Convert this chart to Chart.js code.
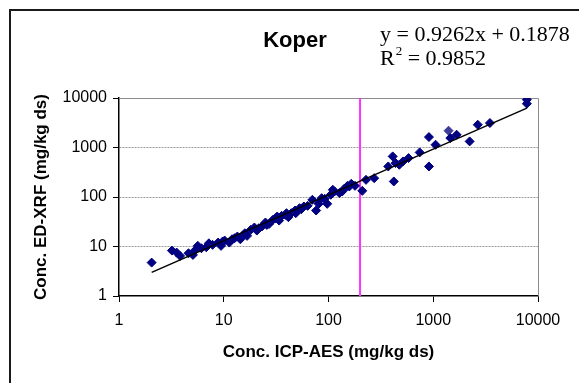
<!DOCTYPE html>
<html>
<head>
<meta charset="utf-8">
<title>Koper</title>
<script src="https://cdn.jsdelivr.net/npm/chart.js@4.4.1/dist/chart.umd.min.js"></script>
<style>
  html, body { margin: 0; padding: 0; background: #fff; }
</style>
</head>
<body>
<canvas id="koperChart" width="579" height="383"></canvas>
<script>
// ICP-AES vs ED-XRF concentrations (mg/kg ds), Koper samples
const icpAes = [
  2.05, 3.2, 3.55, 3.83, 4.61, 5.08, 5.29, 5.65, 6.12, 6.81,
  7.21, 7.82, 8.83, 9.42, 9.75, 10.2, 11.3, 12.0, 12.7, 13.5,
  14.4, 15.4, 15.9, 16.7, 18.1, 19.6, 20.7, 21.6, 23.1, 25.0,
  25.8, 27.1, 29.4, 31.1, 32.4, 33.8, 35.7, 38.8, 39.7, 41.4,
  44.2, 48.0, 48.7, 52.9, 55.0, 58.2, 63.2, 70.2, 76.2, 80.6,
  86.0, 91.8, 97.2, 105, 110, 114, 127, 135, 140, 152,
  158, 165, 179, 210, 228, 273, 372, 410, 420, 437,
  474, 514, 581, 742, 910, 910, 1052, 1456, 1671, 2225,
  2660, 3475, 7830, 7830
];
const edXrf = [
  4.73, 8.27, 7.53, 6.45, 7.3, 6.76, 8.27, 10.3, 9.22, 9.66,
  11.6, 10.8, 12.0, 10.3, 12.6, 13.2, 12.0, 14.0, 14.7, 15.9,
  14.0, 17.2, 18.5, 16.4, 21.7, 24.2, 21.0, 23.4, 25.3, 30.5,
  27.3, 28.6, 34.5, 37.3, 40.3, 33.4, 41.6, 43.6, 47.1, 39.1,
  47.1, 53.3, 47.1, 59.5, 56.7, 64.3, 66.3, 87.7, 53.3, 72.7,
  94.7, 91.8, 72.7, 111, 140, 129, 120, 129, 144, 168,
  163, 185, 168, 133, 222, 240, 414, 661, 206, 484,
  448, 523, 611, 796, 1625, 414, 1136, 1552, 1811, 1328,
  2885, 3120, 9250, 7670
];

// single lighter marker
const lightIcp = [1400];
const lightXrf = [2183];

// trendline from the fitted equation (log-log)
const slope = 0.9262;
const intercept = 0.1878;
const rSquared = 0.9852;

// vertical limit line
const limitIcp = 200;

const axisTicks = [1, 10, 100, 1000, 10000];

const pts = icpAes.map((v, i) => ({ x: v, y: edXrf[i] }));
const lightPts = lightIcp.map((v, i) => ({ x: v, y: lightXrf[i] }));
const xMin = Math.min(...icpAes);
const xMax = Math.max(...icpAes);
const fit = x => Math.pow(10, intercept + slope * Math.log10(x));
const trendPts = [{ x: xMin, y: fit(xMin) }, { x: xMax, y: fit(xMax) }];
const limitPts = [{ x: limitIcp, y: axisTicks[0] }, { x: limitIcp, y: axisTicks[axisTicks.length - 1] }];

const sans = '"Liberation Sans", Arial, sans-serif';
const serif = '"Liberation Serif", "Times New Roman", serif';

const decor = {
  id: 'decor',
  beforeDraw(chart) {
    const ctx = chart.ctx;
    ctx.save();
    ctx.fillStyle = '#fff';
    ctx.fillRect(0, 0, chart.width, chart.height);
    ctx.restore();
  },
  beforeDatasetsDraw(chart) {
    const { ctx, chartArea: a } = chart;
    ctx.save();
    ctx.strokeStyle = '#8c8c8c';
    ctx.lineWidth = 1;
    ctx.beginPath();
    ctx.moveTo(a.left, a.top + 0.5);
    ctx.lineTo(a.right + 0.5, a.top + 0.5);
    ctx.lineTo(a.right + 0.5, a.bottom);
    ctx.stroke();
    ctx.restore();
  },
  afterDraw(chart) {
    const ctx = chart.ctx;
    ctx.save();
    // outer frame
    ctx.strokeStyle = '#1a1a1a';
    ctx.lineWidth = 2;
    ctx.beginPath();
    ctx.moveTo(10, chart.height + 5);
    ctx.lineTo(10, 10);
    ctx.lineTo(chart.width + 5, 10);
    ctx.stroke();

    // title
    ctx.fillStyle = '#000';
    ctx.textBaseline = 'alphabetic';
    ctx.textAlign = 'center';
    ctx.font = 'bold 22px ' + sans;
    ctx.fillText('Koper', 295, 47);

    // equation
    ctx.textAlign = 'left';
    ctx.font = '22px ' + serif;
    ctx.fillText('y = ' + slope + 'x + ' + intercept, 380, 41);
    ctx.fillText('R', 380, 65);
    const rw = ctx.measureText('R').width;
    ctx.font = '13px ' + serif;
    ctx.fillText('2', 380 + rw + 1, 55);
    const sw = ctx.measureText('2').width;
    ctx.font = '22px ' + serif;
    ctx.fillText(' = ' + rSquared, 380 + rw + sw + 1, 65);
    ctx.restore();
  }
};

const logAxis = (title, isX) => ({
  type: 'logarithmic',
  min: axisTicks[0],
  max: axisTicks[axisTicks.length - 1],
  afterBuildTicks: s => { s.ticks = axisTicks.map(v => ({ value: v })); },
  afterFit: s => {
    if (isX) s.height = 87; else s.width = 119;
  },
  ticks: {
    callback: v => String(v),
    color: '#000',
    font: { family: sans, size: 16 },
    padding: isX ? 9 : 6,
    autoSkip: false,
    maxRotation: 0
  },
  grid: {
    drawOnChartArea: !isX,
    drawTicks: true,
    tickLength: 6,
    tickColor: '#000',
    tickWidth: 1,
    color: c => (c.tick && (c.tick.value === 1 || c.tick.value === 10000)) ? 'rgba(0,0,0,0)' : '#9a9a9a'
  },
  border: { display: true, color: '#000', width: 1.5, dash: [2, 1] },
  title: {
    display: true,
    text: title,
    color: '#000',
    font: { family: sans, size: 17, weight: 'bold' },
    padding: isX ? { top: 0, bottom: 20 } : { top: 31, bottom: 0 }
  }
});

new Chart(document.getElementById('koperChart'), {
  type: 'scatter',
  data: {
    datasets: [
      {
        label: 'trend',
        data: trendPts,
        showLine: true,
        borderColor: '#000',
        borderWidth: 1.5,
        pointRadius: 0,
        order: 0
      },
      {
        label: 'Koper',
        data: pts,
        pointStyle: 'rectRot',
        pointRadius: 4.5,
        backgroundColor: '#000080',
        borderColor: '#000080',
        borderWidth: 1,
        order: 1
      },
      {
        label: 'Koper (2)',
        data: lightPts,
        pointStyle: 'rectRot',
        pointRadius: 4.5,
        backgroundColor: '#3d3d99',
        borderColor: '#3d3d99',
        borderWidth: 1,
        order: 2
      },
      {
        label: 'limit',
        data: limitPts,
        showLine: true,
        borderColor: '#ff33ff',
        borderWidth: 2,
        pointRadius: 0,
        order: 3
      }
    ]
  },
  options: {
    responsive: false,
    animation: false,
    layout: { padding: { left: 0, right: 41, top: 98, bottom: 0 } },
    plugins: {
      legend: { display: false },
      tooltip: { enabled: false },
      title: { display: false }
    },
    scales: {
      x: logAxis('Conc. ICP-AES (mg/kg ds)', true),
      y: logAxis('Conc. ED-XRF (mg/kg ds)', false)
    }
  },
  plugins: [decor]
});
</script>
</body>
</html>
